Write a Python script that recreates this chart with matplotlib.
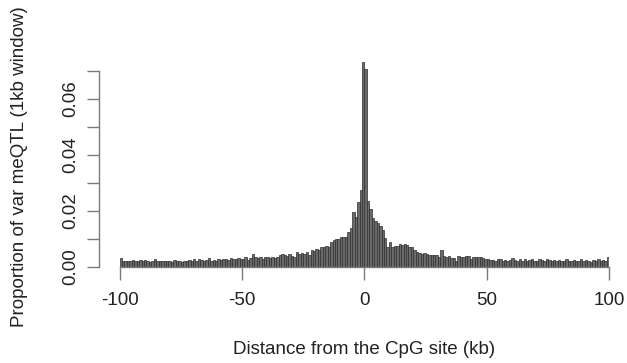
import numpy as np
import matplotlib
matplotlib.use("Agg")
import matplotlib.pyplot as plt

plt.rcParams['font.family'] = ['Liberation Sans', 'DejaVu Sans']

# 1kb windows: left edges from -100 to 99 kb
bin_left = list(range(-100, 100))

left_tail = [0.0030, 0.0020, 0.0021, 0.0019, 0.0020, 0.0024, 0.0019, 0.0022, 0.0025, 0.0019,
             0.0024, 0.0021, 0.0018, 0.0020, 0.0026, 0.0019, 0.0022, 0.0020, 0.0019, 0.0021,
             0.0020, 0.0018, 0.0023, 0.0020, 0.0019, 0.0017, 0.0022, 0.0021, 0.0025, 0.0022,
             0.0028, 0.0021, 0.0026, 0.0023, 0.0020, 0.0024, 0.0030, 0.0022, 0.0025, 0.0021,
             0.0027, 0.0024, 0.0026, 0.0028, 0.0024, 0.0030, 0.0026, 0.0029, 0.0031]  # -100..-52
left_mid = [0.0029, 0.0027, 0.0033, 0.0025, 0.0030, 0.0044, 0.0034, 0.0031, 0.0035, 0.0026,
            0.0033, 0.0036, 0.0032, 0.0036, 0.0030, 0.0035, 0.0042, 0.0044, 0.0043, 0.0038,
            0.0045, 0.0040, 0.0034, 0.0052, 0.0045, 0.0048, 0.0046, 0.0054, 0.0042, 0.0060,
            0.0056, 0.0065, 0.0060, 0.0071, 0.0072, 0.0074, 0.0071, 0.0090, 0.0095, 0.0098,
            0.0098]  # -51..-11
center = [0.0107, 0.0107, 0.0105, 0.0125, 0.0137, 0.0196, 0.0178, 0.0232, 0.0274, 0.0730,
          0.0706, 0.0236, 0.0206, 0.0174, 0.0164, 0.0156, 0.0146, 0.0131, 0.0104, 0.0071,
          0.0089, 0.0071, 0.0075, 0.0075, 0.0080]  # -10..14
right_mid = [0.0077, 0.0081, 0.0078, 0.0071, 0.0070, 0.0060, 0.0052, 0.0048, 0.0046, 0.0050,
             0.0046, 0.0042, 0.0043, 0.0041, 0.0042, 0.0036, 0.0060, 0.0037, 0.0036, 0.0039,
             0.0030, 0.0032, 0.0022, 0.0039, 0.0036, 0.0033, 0.0040, 0.0038, 0.0029, 0.0033,
             0.0035, 0.0034, 0.0033, 0.0030, 0.0029, 0.0027]  # 15..50
right_tail = [0.0024, 0.0025, 0.0022, 0.0026, 0.0029, 0.0022, 0.0024, 0.0021, 0.0025, 0.0031,
              0.0023, 0.0020, 0.0026, 0.0022, 0.0027, 0.0021, 0.0024, 0.0027, 0.0020, 0.0022,
              0.0028, 0.0025, 0.0021, 0.0026, 0.0023, 0.0020, 0.0025, 0.0022, 0.0024, 0.0021,
              0.0020, 0.0026, 0.0022, 0.0020, 0.0024, 0.0019, 0.0022, 0.0027, 0.0020, 0.0023,
              0.0021, 0.0018, 0.0025, 0.0020, 0.0027, 0.0019, 0.0024, 0.0022, 0.0034]  # 51..99
proportion = left_tail + left_mid + center + right_mid + right_tail
assert len(proportion) == len(bin_left) == 200

x_ticks = [-100, -50, 0, 50, 100]
y_ticks = [0.00, 0.01, 0.02, 0.03, 0.04, 0.05, 0.06, 0.07]
y_labels = ["0.00", "", "0.02", "", "0.04", "", "0.06", ""]

W, H = 627, 363
y_top = 0.075
px_per_unit = (266.7 - 70.7) / 0.07
fig = plt.figure(figsize=(W / 100, H / 100), dpi=100)
ax = fig.add_axes([119.5 / W, 1 - 266.7 / H, (609.3 - 119.5) / W, y_top * px_per_unit / H])

ax.bar(bin_left, proportion, width=1.0, align='edge', color='#6a6a6a',
       edgecolor='#2e2e2e', linewidth=0.5)

ax.set_xlim(-100, 100)
ax.set_ylim(0, y_top)
for s in ['top', 'right']:
    ax.spines[s].set_visible(False)
axcol = '#7a7a7a'
ax.spines['left'].set_position(('outward', 20.5 * 0.72))
ax.spines['left'].set_bounds(0, 0.07)
ax.spines['bottom'].set_bounds(-100, 100)
for s in ['left', 'bottom']:
    ax.spines[s].set_color(axcol)
    ax.spines[s].set_linewidth(1.0)

ax.set_xticks(x_ticks)
ax.set_xticklabels([str(v) for v in x_ticks])
ax.set_yticks(y_ticks)
ax.set_yticklabels(y_labels, rotation=90, va='center')
fs = 13.5
ax.tick_params(axis='x', length=13 * 0.72, width=1.0, color=axcol, pad=9, labelsize=fs,
               labelcolor='#222222')
ax.tick_params(axis='y', length=11.7 * 0.72, width=1.0, color=axcol, pad=6, labelsize=fs,
               labelcolor='#222222')

fig.text(364 / W, 1 - 349 / H, "Distance from the CpG site (kb)", ha='center', va='center',
         fontsize=fs, color='#222222')
fig.text(20 / W, 1 - 167 / H, "Proportion of var meQTL (1kb window)", ha='center', va='center',
         rotation=90, fontsize=fs, color='#222222')

fig.savefig("out.png", dpi=100)
